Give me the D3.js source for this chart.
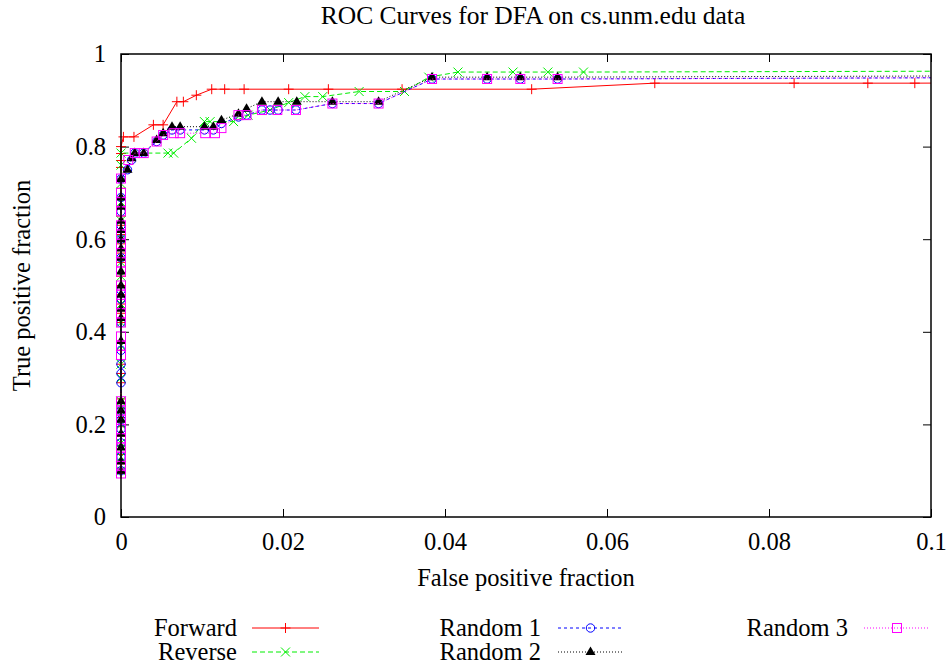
<!DOCTYPE html>
<html>
<head>
<meta charset="utf-8">
<script src="https://cdn.jsdelivr.net/npm/d3@7/dist/d3.min.js"></script>
<style>
  html, body { margin: 0; padding: 0; background: #fff; }
  svg { display: block; }
  svg text { font-family: "Liberation Serif", "Times New Roman", serif !important; fill: #000; }
</style>
</head>
<body>
<svg id="chart" width="950" height="664"></svg>
<script>
// ROC curves: false positive fraction vs true positive fraction
const titleText = "ROC Curves for DFA on cs.unm.edu data";
const xLabelText = "False positive fraction";
const yLabelText = "True positive fraction";
const xTicks = [0, 0.02, 0.04, 0.06, 0.08, 0.1];
const yTicks = [0, 0.2, 0.4, 0.6, 0.8, 1];
const seriesNames = ["Forward", "Reverse", "Random 1", "Random 2", "Random 3"];

const forward = [
  [0,0.094],[0,0.115],[0,0.135],[0,0.155],[0,0.175],[0,0.195],[0,0.215],[0,0.235],[0,0.255],
  [0,0.29],[0,0.31],[0,0.33],[0,0.36],[0,0.38],[0,0.42],[0,0.44],[0,0.46],[0,0.48],[0,0.50],
  [0,0.52],[0,0.55],[0,0.57],[0,0.59],[0,0.61],[0,0.63],[0,0.65],[0,0.67],[0,0.69],[0,0.71],
  [0,0.73],[0,0.755],[0,0.77],[0,0.785],[0,0.80],
  [0.0003,0.821],[0.0016,0.821],[0.004,0.847],[0.0052,0.847],[0.0069,0.897],[0.0077,0.897],
  [0.0093,0.911],[0.0112,0.924],[0.0128,0.924],[0.0152,0.924],[0.0207,0.924],[0.0256,0.924],
  [0.0347,0.924],[0.0507,0.924],[0.0659,0.937],[0.0831,0.937],[0.0922,0.937],[0.098,0.937],
  [1,1]
];

const reverse = [
  [0,0.10],[0,0.13],[0,0.16],[0,0.20],[0,0.23],[0,0.25],[0,0.30],[0,0.33],[0,0.37],[0,0.42],
  [0,0.46],[0,0.52],[0,0.55],[0,0.60],[0,0.64],[0,0.68],[0,0.72],[0,0.76],[0,0.786],
  [0.0058,0.786],[0.0065,0.786],[0.0087,0.818],[0.0103,0.854],[0.011,0.854],[0.0139,0.854],
  [0.0157,0.868],[0.0184,0.879],[0.0207,0.895],[0.0227,0.908],[0.0249,0.908],[0.0294,0.919],
  [0.035,0.919],[0.038,0.95],[0.0416,0.961],[0.0484,0.961],[0.0527,0.961],[0.0571,0.961],
  [1,1]
];

const random1 = [
  [0,0.10],[0,0.13],[0,0.16],[0,0.19],[0,0.21],[0,0.23],[0,0.29],[0,0.31],[0,0.33],[0,0.36],
  [0,0.42],[0,0.47],[0,0.49],[0,0.56],[0,0.60],[0,0.63],[0,0.66],[0,0.69],[0,0.73],
  [0.0008,0.75],[0.0013,0.771],[0.0017,0.786],[0.0028,0.786],[0.0044,0.811],[0.0052,0.825],
  [0.0063,0.836],[0.0073,0.836],[0.0103,0.836],[0.0114,0.836],[0.0124,0.85],[0.0145,0.864],
  [0.0155,0.868],[0.0174,0.879],[0.0184,0.879],[0.0194,0.879],[0.0216,0.879],[0.0261,0.893],
  [0.0318,0.893],[0.0384,0.946],[0.0452,0.946],[0.0493,0.946],[0.0539,0.946],
  [1,1]
];

const random2 = [
  [0,0.10],[0,0.12],[0,0.15],[0,0.18],[0,0.21],[0,0.23],[0,0.25],[0,0.38],[0,0.43],[0,0.45],
  [0,0.48],[0,0.50],[0,0.53],[0,0.56],[0,0.58],[0,0.60],[0,0.62],[0,0.64],[0,0.67],[0,0.69],
  [0,0.73],
  [0.0008,0.75],[0.0013,0.775],[0.0017,0.786],[0.0028,0.786],[0.0044,0.814],[0.0052,0.829],
  [0.0063,0.843],[0.0073,0.843],[0.0103,0.843],[0.0114,0.843],[0.0124,0.857],[0.0145,0.871],
  [0.0155,0.882],[0.0174,0.897],[0.0194,0.897],[0.0217,0.897],[0.0261,0.897],[0.0318,0.897],
  [0.0384,0.95],[0.0452,0.95],[0.0493,0.95],[0.0539,0.95],
  [1,1]
];

const random3 = [
  [0,0.094],[0,0.11],[0,0.13],[0,0.15],[0,0.17],[0,0.19],[0,0.21],[0,0.23],[0,0.25],[0,0.35],
  [0,0.37],[0,0.39],[0,0.42],[0,0.44],[0,0.46],[0,0.48],[0,0.50],[0,0.53],[0,0.55],[0,0.57],
  [0,0.59],[0,0.61],[0,0.63],[0,0.66],[0,0.68],[0,0.70],[0,0.731],
  [0.0009,0.771],[0.0017,0.786],[0.0028,0.786],[0.0044,0.811],[0.0052,0.825],[0.0065,0.829],
  [0.0073,0.829],[0.0104,0.829],[0.0116,0.829],[0.0124,0.84],[0.0145,0.868],[0.0155,0.868],
  [0.0174,0.879],[0.0193,0.879],[0.0216,0.879],[0.0261,0.893],[0.0318,0.893],[0.0384,0.946],
  [0.0452,0.946],[0.0493,0.946],[0.0539,0.946],
  [1,1]
];

const seriesData = [forward, reverse, random1, random2, random3];

// Visual style per series (line colour, dash, marker kind)
const styles = [
  { color: "#ff0000", dash: null,  marker: "plus" },
  { color: "#00ee00", dash: "5,3", marker: "cross" },
  { color: "#0000ff", dash: "3,3", marker: "circle" },
  { color: "#000000", dash: "1,2", marker: "triangle" },
  { color: "#ff00ff", dash: "1,2", marker: "square" }
];

const svg = d3.select("#chart");
const margin = { left: 121, right: 19, top: 54, bottom: 147 };
const W = 950, H = 664;
const x = d3.scaleLinear().domain([0, 0.1]).range([margin.left, W - margin.right]);
const y = d3.scaleLinear().domain([0, 1]).range([H - margin.bottom, margin.top]);

svg.append("defs").append("clipPath").attr("id", "plotClip")
  .append("rect")
  .attr("x", x(0) - 5).attr("y", y(1))
  .attr("width", x(0.1) - x(0) + 5).attr("height", y(0) - y(1));

// Axes with inward ticks, mirrored on top and right
const fmt = d => String(d);
const bodyFont = "24.5px";
const serif = '"Liberation Serif", "Times New Roman", serif';

function styleAxis(g) {
  g.attr("font-family", serif).attr("font-size", bodyFont);
  g.select(".domain").remove();
  g.selectAll(".tick line").attr("stroke", "#000").attr("stroke-width", 1);
  g.selectAll(".tick text").style("font-size", bodyFont);
}

svg.append("g").attr("transform", `translate(0,${y(0)})`)
  .call(d3.axisBottom(x).tickValues(xTicks).tickFormat(fmt).tickSize(-8).tickPadding(16))
  .call(styleAxis);
svg.append("g").attr("transform", `translate(0,${y(1)})`)
  .call(d3.axisTop(x).tickValues(xTicks).tickFormat("").tickSize(-8))
  .call(styleAxis);
svg.append("g").attr("transform", `translate(${x(0)},0)`)
  .call(d3.axisLeft(y).tickValues(yTicks).tickFormat(fmt).tickSize(-8).tickPadding(15))
  .call(styleAxis);
svg.append("g").attr("transform", `translate(${x(0.1)},0)`)
  .call(d3.axisRight(y).tickValues(yTicks).tickFormat("").tickSize(-8))
  .call(styleAxis);

// Marker shapes
function drawMarker(g, kind, color) {
  if (kind === "plus") {
    g.append("path").attr("d", "M-5,0H5M0,-5V5").attr("stroke", color).attr("fill", "none").attr("stroke-width", 1);
  } else if (kind === "cross") {
    g.append("path").attr("d", "M-4.5,-4.5L4.5,4.5M-4.5,4.5L4.5,-4.5").attr("stroke", color).attr("fill", "none").attr("stroke-width", 1);
  } else if (kind === "circle") {
    g.append("circle").attr("r", 4.2).attr("stroke", color).attr("fill", "none").attr("stroke-width", 1);
  } else if (kind === "triangle") {
    g.append("path").attr("d", "M0,-5.5L5,3L-5,3Z").attr("fill", color).attr("stroke", "none");
  } else if (kind === "square") {
    g.append("rect").attr("x", -4.5).attr("y", -4.5).attr("width", 9).attr("height", 9)
      .attr("stroke", color).attr("fill", "none").attr("stroke-width", 1);
  }
}

const line = d3.line().x(d => x(d[0])).y(d => y(d[1]));

seriesData.forEach((data, i) => {
  const st = styles[i];
  const g = svg.append("g").attr("class", "series");
  g.append("path").datum(data)
    .attr("d", line)
    .attr("fill", "none")
    .attr("stroke", st.color)
    .attr("stroke-width", 1)
    .attr("stroke-dasharray", st.dash)
    .attr("clip-path", "url(#plotClip)");
  g.selectAll("g.pt").data(data.filter(d => d[0] <= 0.1)).enter()
    .append("g").attr("class", "pt")
    .attr("transform", d => `translate(${x(d[0])},${y(d[1])})`)
    .each(function() { drawMarker(d3.select(this), st.marker, st.color); });
});

// Frame
svg.append("rect")
  .attr("x", x(0)).attr("y", y(1))
  .attr("width", x(0.1) - x(0)).attr("height", y(0) - y(1))
  .attr("fill", "none").attr("stroke", "#000").attr("stroke-width", 1.5);

// Title and axis labels
svg.append("text").attr("x", 533).attr("y", 24).attr("text-anchor", "middle")
  .style("font-size", "25.5px").text(titleText);
svg.append("text").attr("x", 526).attr("y", 586).attr("text-anchor", "middle")
  .style("font-size", bodyFont).text(xLabelText);
svg.append("text").attr("transform", `translate(30,${(y(0) + y(1)) / 2}) rotate(-90)`)
  .attr("text-anchor", "middle").style("font-size", bodyFont).text(yLabelText);

// Legend
const legendPos = [
  { tx: 237, ly: 628, x0: 252, x1: 319 },
  { tx: 237, ly: 652, x0: 252, x1: 319 },
  { tx: 541, ly: 628, x0: 558, x1: 623 },
  { tx: 541, ly: 652, x0: 558, x1: 623 },
  { tx: 848, ly: 628, x0: 864, x1: 930 }
];
seriesNames.forEach((name, i) => {
  const p = legendPos[i], st = styles[i];
  const g = svg.append("g").attr("class", "legend-item");
  g.append("text").attr("x", p.tx).attr("y", p.ly).attr("dy", "0.32em")
    .attr("text-anchor", "end").style("font-size", bodyFont).text(name);
  g.append("line").attr("x1", p.x0).attr("x2", p.x1).attr("y1", p.ly).attr("y2", p.ly)
    .attr("stroke", st.color).attr("stroke-width", 1).attr("stroke-dasharray", st.dash);
  const m = g.append("g").attr("transform", `translate(${(p.x0 + p.x1) / 2},${p.ly})`);
  drawMarker(m, st.marker, st.color);
});
</script>
</body>
</html>
